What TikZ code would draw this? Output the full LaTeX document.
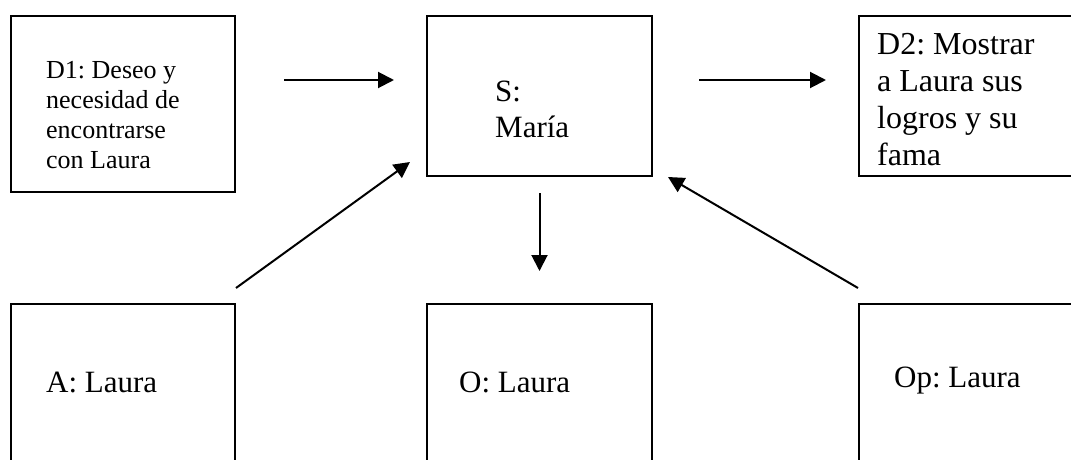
\documentclass[tikz,border=0pt]{standalone}
\usepackage{fontspec}
\setmainfont{Liberation Serif}
\usetikzlibrary{arrows.meta}
\frenchspacing

\tikzset{
  caja/.style={draw, line width=2pt, inner sep=0pt},
  texto/.style={inner sep=0pt, align=left, anchor=base west},
  flecha/.style={line width=2pt, -{Triangle[length=16pt,width=16pt]}},
}

\begin{document}
\begin{tikzpicture}[x=1pt, y=-1pt]
        \clip (0,0) rectangle (1071,460);
        \fill[white] (0,0) rectangle (1071,460);

        \node[caja, minimum width=224pt, minimum height=176pt] (d1) at (123, 104) {};
        \node[caja, minimum width=225pt, minimum height=160pt] (s) at (539.5, 96) {};
        \node[caja, minimum width=230pt, minimum height=160pt] (d2) at (974, 96) {};
        \node[caja, minimum width=224pt, minimum height=180pt] (a) at (123, 394) {};
        \node[caja, minimum width=225pt, minimum height=180pt] (o) at (539.5, 394) {};
        \node[caja, minimum width=230pt, minimum height=180pt] (op) at (974, 394) {};

        % base = baseline of the last line
        \node[texto, font=\fontsize{26}{30}\selectfont] (d1txt) at (46, 168) {D1: Deseo y\\necesidad de\\encontrarse\\con Laura};
        \node[texto, font=\fontsize{31}{36}\selectfont] (stxt) at (495, 137) {S:\\María};
        \node[texto, font=\fontsize{32}{36.7}\selectfont] (d2txt) at (877, 165) {D2: Mostrar\\a Laura sus\\logros y su\\fama};
        \node[texto, font=\fontsize{31}{36}\selectfont] (atxt) at (46, 392) {A: Laura};
        \node[texto, font=\fontsize{31}{36}\selectfont] (otxt) at (459, 392) {O: Laura};
        \node[texto, font=\fontsize{31}{36}\selectfont] (optxt) at (894, 387) {Op: Laura};

        \draw[flecha, shorten <=48pt, shorten >=32pt] ([yshift=24pt]d1.east) -- ([yshift=16pt]s.west);
        \draw[flecha, shorten <=46pt, shorten >=32pt] ([yshift=16pt]s.east) -- ([yshift=16pt]d2.west);
        \draw[flecha, shorten <=16pt, shorten >=32pt] (s.south) -- (o.north);
        \draw[flecha] ([yshift=15pt]a.north east) -- ([shift={(-16pt,15pt)}]s.south west);
        \draw[flecha] ([yshift=15pt]op.north west) -- ([xshift=15pt]s.south east);
    \end{tikzpicture}
\end{document}
